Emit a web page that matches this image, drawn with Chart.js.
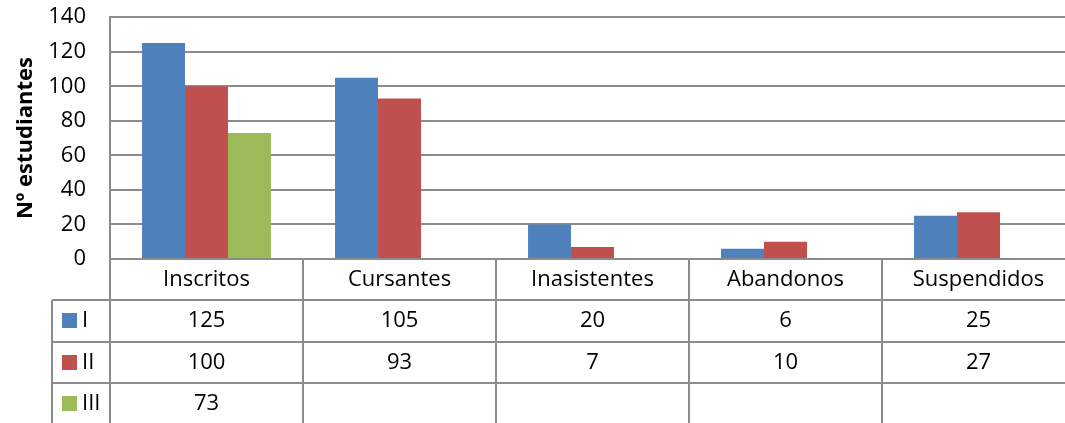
<!DOCTYPE html>
<html>
<head>
<meta charset="utf-8">
<script src="https://cdn.jsdelivr.net/npm/chart.js@4.4.0/dist/chart.umd.min.js"></script>
<style>
  html, body { margin: 0; padding: 0; background: #fff; overflow: hidden; }
  #contenedor { width: 1075px; height: 443px; margin-top: -20px; }
</style>
</head>
<body>
<div id="contenedor"><canvas id="grafica"></canvas></div>
<script>
/* eslint-disable no-undef */
// datos de la grafica
const categorias = ['Inscritos', 'Cursantes', 'Inasistentes', 'Abandonos', 'Suspendidos']
const serieI = [125, 105, 20, 6, 25]
const serieII = [100, 93, 7, 10, 27]
const serieIII = [73, null, null, null, null]
const nombresSeries = ['I', 'II', 'III']
const colores = ['#4F81BD', '#C0504D', '#9BBB59']
const tituloY = 'Nº estudiantes'

const fuente = '"Open Sans"'
const gris = '#8c8c8c'

// tabla de datos debajo del eje, como en Excel
const tablaDatos = {
  id: 'tablaDatos',
  afterDraw (chart) {
    const { ctx, chartArea, scales: { x } } = chart
    const series = [serieI, serieII, serieIII]
    const anchoCol = x.width / categorias.length
    const altoFila = 41.3
    const y0 = Math.round(chartArea.bottom)
    const fondo = chart.height
    const izqLeyenda = 52
    ctx.save()
    ctx.strokeStyle = gris
    ctx.lineWidth = 2
    // lineas horizontales
    for (let k = 1; k <= 3; k++) {
      const y = Math.round(y0 + altoFila * k)
      ctx.beginPath()
      ctx.moveTo(izqLeyenda, y)
      ctx.lineTo(x.right, y)
      ctx.stroke()
    }
    // lineas verticales
    for (let i = 0; i <= categorias.length; i++) {
      const xx = Math.round(x.left + anchoCol * i)
      ctx.beginPath()
      ctx.moveTo(xx, y0)
      ctx.lineTo(xx, fondo)
      ctx.stroke()
    }
    ctx.beginPath()
    ctx.moveTo(izqLeyenda, Math.round(y0 + altoFila))
    ctx.lineTo(izqLeyenda, fondo)
    ctx.stroke()

    ctx.fillStyle = '#000'
    ctx.font = `22px ${fuente}`
    ctx.textAlign = 'center'
    ctx.textBaseline = 'middle'
    categorias.forEach((cat, i) => {
      const cx = x.getPixelForValue(i)
      ctx.fillText(cat, cx, y0 + altoFila / 2)
      series.forEach((s, j) => {
        if (s[i] !== null) {
          ctx.fillText(String(s[i]), cx, y0 + altoFila * (j + 1.5))
        }
      })
    })
    // claves de leyenda
    nombresSeries.forEach((nombre, j) => {
      const cy = y0 + altoFila * (j + 1.5)
      ctx.fillStyle = colores[j]
      ctx.fillRect(62, Math.round(cy - 7.5), 15, 15)
      ctx.fillStyle = '#000'
      ctx.textAlign = 'left'
      ctx.fillText(nombre, 82, cy)
    })
    ctx.restore()
  }
}

const ctx1 = document.getElementById('grafica').getContext('2d')
const myChart1 = new Chart(ctx1, {
  type: 'bar',
  data: {
    labels: categorias,
    datasets: [serieI, serieII, serieIII].map((d, j) => ({
      label: nombresSeries[j],
      data: d,
      backgroundColor: colores[j],
      borderWidth: 0,
      categoryPercentage: 0.668,
      barPercentage: 1
    }))
  },
  options: {
    responsive: true,
    maintainAspectRatio: false,
    animation: false,
    layout: { padding: { top: 0, bottom: 164, left: 0, right: 0 } },
    plugins: {
      legend: { display: false },
      tooltip: { enabled: false }
    },
    scales: {
      x: {
        display: false,
        grid: { display: false }
      },
      y: {
        min: 0,
        max: 140,
        afterFit: (s) => { s.width = 110 },
        ticks: {
          stepSize: 20,
          padding: 24,
          color: '#000',
          font: { family: fuente, size: 22 }
        },
        grid: { color: gris, lineWidth: 2, drawTicks: false },
        border: { display: true, color: gris, width: 2 },
        title: {
          display: true,
          text: tituloY,
          color: '#000',
          padding: { top: 13, bottom: 0 },
          font: { family: fuente, size: 22, weight: 'bold' }
        }
      }
    }
  },
  plugins: [tablaDatos]
})
</script>
</body>
</html>
